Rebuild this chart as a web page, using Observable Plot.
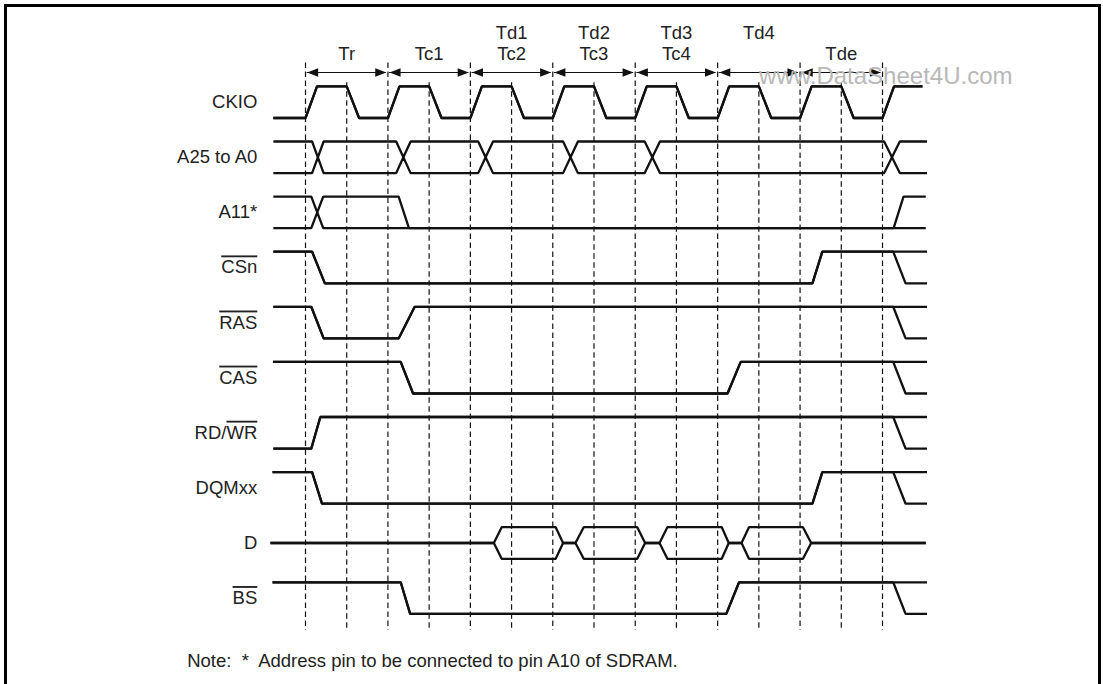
<!DOCTYPE html>
<html>
<head>
<meta charset="utf-8">
<script src="https://cdn.jsdelivr.net/npm/d3@7"></script>
<script src="https://cdn.jsdelivr.net/npm/@observablehq/plot@0.6"></script>
<style>
  html, body { margin: 0; padding: 0; background: #fff; }
  #wrap { position: relative; width: 1103px; height: 684px; overflow: hidden; }
  #frame { position: absolute; left: 4px; top: 4px; width: 1091px; height: 700px;
           border: 3px solid #000; border-bottom: none; pointer-events: none; }
</style>
</head>
<body>
<div id="wrap"><div id="frame"></div></div>
<script>
// ---- data (time in half clock cycles, states: H high, L low, X bus, Z mid) ----
const signalNames = ["CKIO", "A25 to A0", "A11*", "CSn", "RAS", "CAS", "RD/WR", "DQMxx", "D", "BS"];
const overlinedNames = ["CSn", "RAS", "CAS", "BS"];
const halfCycles = [0, 1, 2, 3, 4, 5, 6, 7, 8, 9, 10, 11, 12, 13, 14];
const periodStarts = [0, 2, 4, 6, 8, 10, 12];
const periodNamesLower = ["Tr", "Tc1", "Tc2", "Tc3", "Tc4", "", "Tde"];
const periodNamesUpper = ["", "", "Td1", "Td2", "Td3", "Td4", ""];
const noteText = "Note:  *  Address pin to be connected to pin A10 of SDRAM.";
const watermark = "www.DataSheet4U.com";

// each change: [start, end, new state]; first entry = initial state
const ckioWave = [[-0.78, -0.78, "L"], [0, 0.28, "H"], [1, 1.3, "L"], [2, 2.28, "H"], [3, 3.3, "L"],
  [4, 4.28, "H"], [5, 5.3, "L"], [6, 6.28, "H"], [7, 7.3, "L"], [8, 8.28, "H"], [9, 9.3, "L"],
  [10, 10.28, "H"], [11, 11.3, "L"], [12, 12.28, "H"], [13, 13.3, "L"], [14, 14.28, "H"]];
const addrWave = [[-0.78, -0.78, "X"], [0.16, 0.44, "X"], [2.2, 2.55, "X"], [4.19, 4.55, "X"],
  [6.25, 6.61, "X"], [8.23, 8.6, "X"], [14.04, 14.42, "X"]];
const a11Wave = [[-0.78, -0.78, "X"], [0.14, 0.43, "X"], [2.26, 2.51, "L"], [14.27, 14.51, "X"]];
const csWave = [[-0.78, -0.78, "H"], [0.16, 0.47, "L"], [12.3, 12.54, "H"], [14.26, 14.56, "X"]];
const rasWave = [[-0.78, -0.78, "H"], [0.14, 0.44, "L"], [2.26, 2.65, "H"], [14.26, 14.56, "X"]];
const casWave = [[-0.79, -0.79, "H"], [2.31, 2.61, "L"], [10.24, 10.56, "H"], [14.26, 14.56, "X"]];
const rdwrWave = [[-0.78, -0.78, "L"], [0.14, 0.36, "H"], [14.26, 14.56, "X"]];
const dqmWave = [[-0.8, -0.8, "H"], [0.16, 0.4, "L"], [12.3, 12.54, "H"], [14.26, 14.56, "X"]];
const dataWave = [[-0.85, -0.85, "Z"], [4.57, 4.76, "X"], [6.07, 6.25, "Z"], [6.55, 6.75, "X"],
  [8.05, 8.24, "Z"], [8.59, 8.78, "X"], [10.1, 10.27, "Z"], [10.58, 10.76, "X"], [12.07, 12.27, "Z"]];
const bsWave = [[-0.8, -0.8, "H"], [2.31, 2.54, "L"], [10.21, 10.52, "H"], [14.26, 14.56, "X"]];
const waveEnds = [14.97, 15.08, 15.05, 15.08, 15.08, 15.08, 15.08, 15.08, 15.05, 15.08];

const waves = [ckioWave, addrWave, a11Wave, csWave, rasWave, casWave, rdwrWave, dqmWave, dataWave, bsWave];

// ---- build traces (upper and lower line of each signal) ----
const amp = 0.287;
function lvl(state, upper) {
  if (state === "H") return 1;
  if (state === "L") return 0;
  if (state === "Z") return 0.5;
  return upper ? 1 : 0; // X
}
const points = [];
waves.forEach((wave, row) => {
  for (const upper of [true, false]) {
    const key = row + (upper ? "u" : "l");
    const pts = [];
    let prev = wave[0][2];
    pts.push([wave[0][0], lvl(prev, upper)]);
    for (let i = 1; i < wave.length; i++) {
      const [s, e, st] = wave[i];
      pts.push([s, lvl(prev, upper)]);
      if (prev === "X" && st === "X") pts.push([(s + e) / 2, 0.5]);
      pts.push([e, lvl(st, upper)]);
      prev = st;
    }
    pts.push([waveEnds[row], lvl(prev, upper)]);
    for (const [t, l] of pts) points.push({key, t, y: row + (0.5 - l) * 2 * amp});
  }
});

// ---- arrowhead symbols ----
const headLeft = {draw(ctx) { ctx.moveTo(0, 0); ctx.lineTo(11, -4.2); ctx.lineTo(11, 4.2); ctx.closePath(); }};
const headRight = {draw(ctx) { ctx.moveTo(0, 0); ctx.lineTo(-11, -4.2); ctx.lineTo(-11, 4.2); ctx.closePath(); }};

const font = "'Liberation Sans', Arial, Helvetica, sans-serif";
const ink = "#111";
const fs = 18.5;

const chart = Plot.plot({
  width: 1103,
  height: 684,
  x: {domain: [0, 14], range: [305, 882], axis: null},
  y: {domain: [0, 9], range: [101.7, 597.6], axis: null},
  style: {fontFamily: font, fontSize: fs + "px", background: "transparent", color: ink},
  marks: [
    Plot.ruleX(halfCycles.filter(d => d % 2 === 0), {x: d => d, y1: -0.71, y2: 9.59,
      stroke: ink, strokeWidth: 1.2, strokeDasharray: "5.5,3.5"}),
    Plot.ruleX(halfCycles.filter(d => d % 2 === 1), {x: d => d, y1: -0.355, y2: 9.59,
      stroke: ink, strokeWidth: 1.2, strokeDasharray: "5.5,3.5"}),
    Plot.ruleY(periodStarts, {x1: d => d + 0.04, x2: d => d + 1.96, y: -0.539, stroke: ink, strokeWidth: 1.2}),
    Plot.dot(periodStarts, {x: d => d + 0.04, y: -0.539, symbol: headLeft, fill: ink, stroke: "none"}),
    Plot.dot(periodStarts, {x: d => d + 1.96, y: -0.539, symbol: headRight, fill: ink, stroke: "none"}),
    Plot.text(periodStarts, {x: d => d + 1, y: -0.879, text: (d, i) => periodNamesLower[i], fill: "#222", fontSize: fs}),
    Plot.text(periodStarts, {x: d => d + 1, y: -1.252, text: (d, i) => periodNamesUpper[i], fill: "#222", fontSize: fs}),
    Plot.text([watermark], {x: 14.08, y: -0.47, text: d => d, fill: "#b8b8b8", fontSize: 24}),
    Plot.line(points, {x: "t", y: "y", z: "key", stroke: ink, strokeWidth: 2.3,
      strokeLinejoin: "miter", strokeLinecap: "butt", curve: "linear"}),
    Plot.text(signalNames, {x: -1.17, y: (d, i) => i, text: d => d, textAnchor: "end", fill: "#222", fontSize: fs}),
    Plot.text([noteText], {x: -2.87, y: 10.135, text: d => d, textAnchor: "start", fill: "#222", fontSize: fs})
  ]
});

// overlines for active-low signal names
d3.select(chart).selectAll("text").each(function() {
  const s = this.textContent;
  if (overlinedNames.includes(s)) {
    this.style.textDecoration = "overline";
  } else if (s === "RD/WR") {
    this.textContent = "";
    const a = document.createElementNS("http://www.w3.org/2000/svg", "tspan");
    a.textContent = "RD/";
    const b = document.createElementNS("http://www.w3.org/2000/svg", "tspan");
    b.textContent = "WR";
    b.style.textDecoration = "overline";
    this.appendChild(a); this.appendChild(b);
  }
});

document.getElementById("wrap").prepend(chart);
</script>
</body>
</html>
